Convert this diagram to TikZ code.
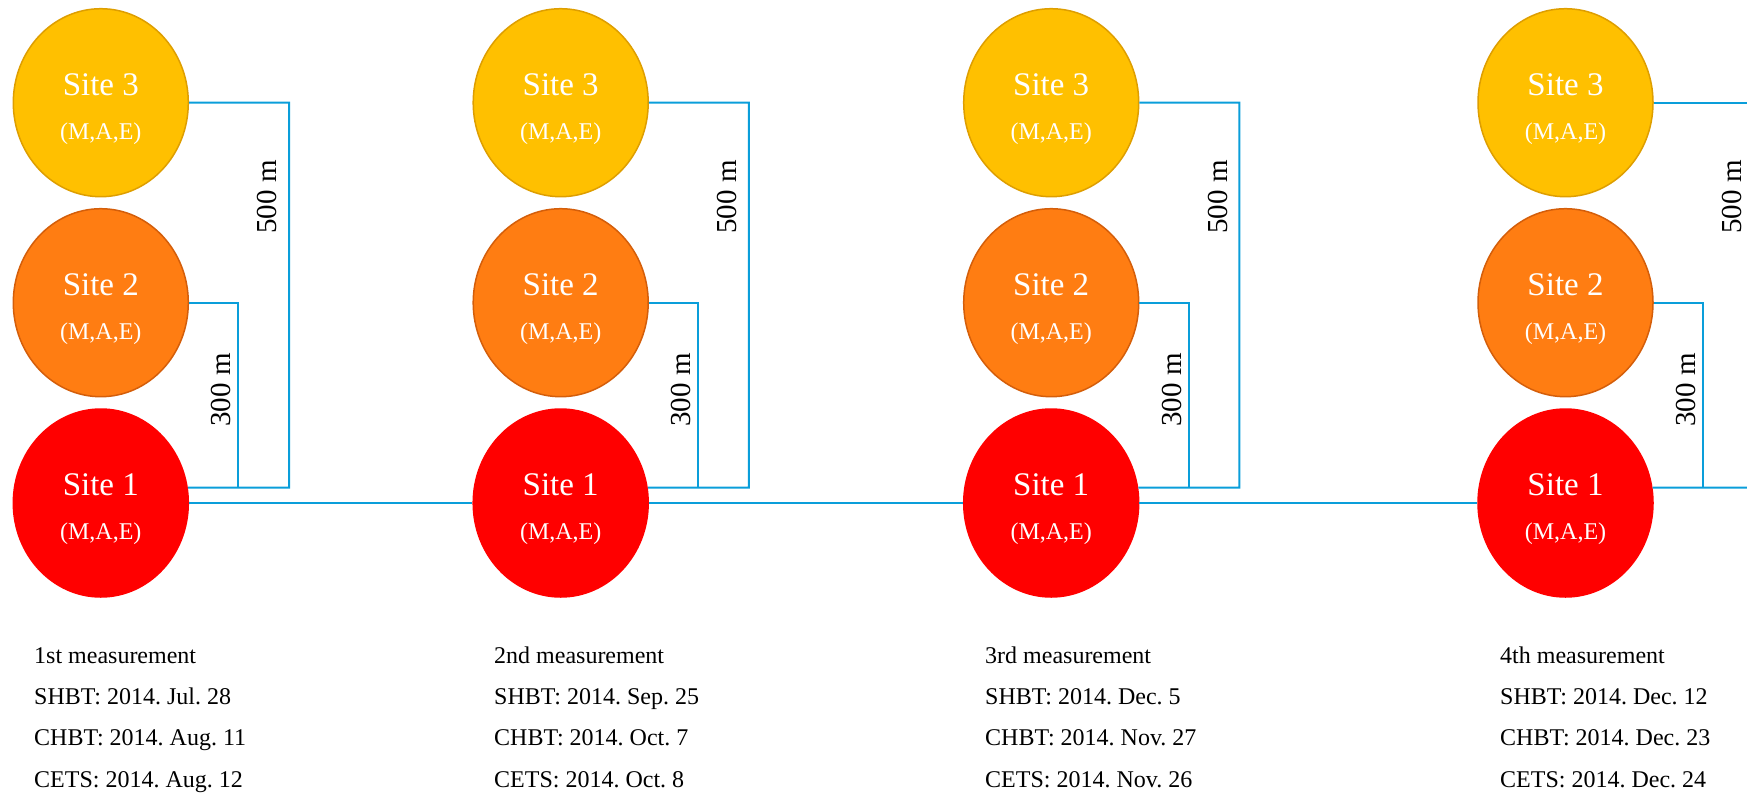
\documentclass[tikz,border=0pt]{standalone}
\usepackage{fontspec}
\setmainfont{Liberation Serif}
\usetikzlibrary{shapes.geometric}
\definecolor{siteyellow}{RGB}{255,192,0}
\definecolor{siteyellowline}{RGB}{222,158,0}
\definecolor{siteorange}{RGB}{255,125,18}
\definecolor{siteorangeline}{RGB}{212,94,10}
\definecolor{sitered}{RGB}{255,0,0}
\definecolor{linkblue}{RGB}{10,158,218}
\newcommand\sitetext[1]{\rule{0pt}{34pt}Site #1\\{\fontsize{24}{30}\selectfont(M,A,E)}}
\frenchspacing

\begin{document}
\begin{tikzpicture} [x=1pt, y=-1pt,
    site/.style={ellipse, minimum width=175pt, minimum height=188pt, inner sep=0pt, line width=1.5pt, text=white, align=center, font=\fontsize{33}{44}\selectfont},
    site 3/.style={site, fill=siteyellow, draw=siteyellowline},
    site 2/.style={site, fill=siteorange, draw=siteorangeline},
    site 1/.style={site, fill=sitered, draw=sitered},
    link/.style={draw=linkblue, line width=2pt},
    dist/.style={rotate=90, inner sep=0pt, font=\fontsize{29}{30}\selectfont},
    dates/.style={anchor=north west, inner sep=0pt, row sep=19.3pt, column 1/.style={anchor=base west},
        nodes={inner sep=0pt, text height=17pt, text depth=5pt, font=\fontsize{24}{28}\selectfont}}]
    \useasboundingbox (0,0) rectangle (1747,793);

    % 1st measurement
    \node[site 3] (s3a) at (100.8,102.7) {\sitetext{3}};
    \node[site 2] (s2a) at (100.8,302.7) {\sitetext{2}};
    \node[site 1] (s1a) at (100.8,503) {\sitetext{1}};
    \coordinate (c3a) at (289,487.5);
    \coordinate (j2a) at (238.3,487.5);
    \draw[link] (s3a.east) -| (c3a) -- (s1a.10);
    \draw[link] (s2a.east) -| (j2a);
    \node[dist] (d500a) at (267.3,197) {500 m};
    \node[dist] (d300a) at (221.1,390) {300 m};
    \matrix (meas1) [dates] at (34,646) {
        \node (t1a) {1st measurement}; \\
        \node (t1b) {SHBT: 2014. Jul. 28}; \\
        \node (t1c) {CHBT: 2014. Aug. 11}; \\
        \node (t1d) {CETS: 2014. Aug. 12}; \\
    };

    % 2nd measurement
    \node[site 3] (s3b) at (560.7,102.7) {\sitetext{3}};
    \node[site 2] (s2b) at (560.7,302.7) {\sitetext{2}};
    \node[site 1] (s1b) at (560.7,503) {\sitetext{1}};
    \coordinate (c3b) at (748.9,487.5);
    \coordinate (j2b) at (698.2,487.5);
    \draw[link] (s3b.east) -| (c3b) -- (s1b.10);
    \draw[link] (s2b.east) -| (j2b);
    \node[dist] (d500b) at (727.2,197) {500 m};
    \node[dist] (d300b) at (681,390) {300 m};
    \matrix (meas2) [dates] at (494,646) {
        \node (t2a) {2nd measurement}; \\
        \node (t2b) {SHBT: 2014. Sep. 25}; \\
        \node (t2c) {CHBT: 2014. Oct. 7}; \\
        \node (t2d) {CETS: 2014. Oct. 8}; \\
    };

    % 3rd measurement
    \node[site 3] (s3c) at (1051.2,102.7) {\sitetext{3}};
    \node[site 2] (s2c) at (1051.2,302.7) {\sitetext{2}};
    \node[site 1] (s1c) at (1051.2,503) {\sitetext{1}};
    \coordinate (c3c) at (1239.4,487.5);
    \coordinate (j2c) at (1188.7,487.5);
    \draw[link] (s3c.east) -| (c3c) -- (s1c.10);
    \draw[link] (s2c.east) -| (j2c);
    \node[dist] (d500c) at (1217.7,197) {500 m};
    \node[dist] (d300c) at (1171.5,390) {300 m};
    \matrix (meas3) [dates] at (985,646) {
        \node (t3a) {3rd measurement}; \\
        \node (t3b) {SHBT: 2014. Dec. 5}; \\
        \node (t3c) {CHBT: 2014. Nov. 27}; \\
        \node (t3d) {CETS: 2014. Nov. 26}; \\
    };

    % 4th measurement, cut at the right edge
    \node[site 3] (s3d) at (1565.5,102.7) {\sitetext{3}};
    \node[site 2] (s2d) at (1565.5,302.7) {\sitetext{2}};
    \node[site 1] (s1d) at (1565.5,503) {\sitetext{1}};
    \coordinate (e3d) at (1747,102.7);
    \coordinate (e1d) at (1747,487.5);
    \coordinate (j2d) at (1703,487.5);
    \draw[link] (s3d.east) -- (e3d);
    \draw[link] (s1d.10) -- (e1d);
    \draw[link] (s2d.east) -| (j2d);
    \node[dist] (d500d) at (1732,197) {500 m};
    \node[dist] (d300d) at (1685.8,390) {300 m};
    \matrix (meas4) [dates] at (1500,646) {
        \node (t4a) {4th measurement}; \\
        \node (t4b) {SHBT: 2014. Dec. 12}; \\
        \node (t4c) {CHBT: 2014. Dec. 23}; \\
        \node (t4d) {CETS: 2014. Dec. 24}; \\
    };

    % time line between the Site 1 nodes
    \draw[link] (s1a.east) -- (s1b.west);
    \draw[link] (s1b.east) -- (s1c.west);
    \draw[link] (s1c.east) -- (s1d.west);
\end{tikzpicture}
\end{document}
